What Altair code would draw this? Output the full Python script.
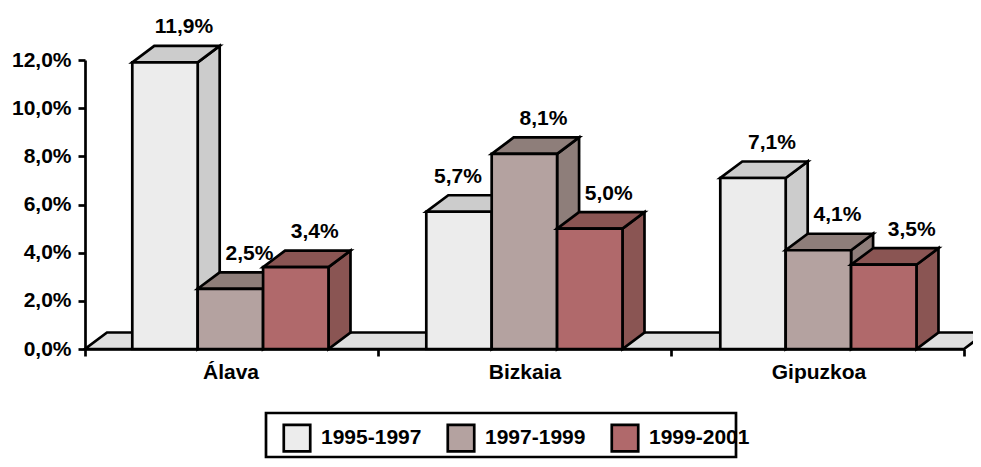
import altair as alt
import pandas as pd

categories = ["Álava", "Bizkaia", "Gipuzkoa"]
series = ["1995-1997", "1997-1999", "1999-2001"]
values_1995 = [11.9, 5.7, 7.1]
values_1997 = [2.5, 8.1, 4.1]
values_1999 = [3.4, 5.0, 3.5]
y_ticks = [0, 2, 4, 6, 8, 10, 12]
front_colors = ["#ECECEC", "#B4A2A0", "#B0696B"]
shade_colors = ["#CCCCCC", "#8E7E7A", "#8A5553"]
floor_color = "#DFDFDF"

FONT = "Liberation Sans"
FS = 21
SW = 2.7
INSET, BAR_W, STEP = 0.1614, 0.2232, 294 / 293
DX, DY = 22 / 293, 0.685   # 3D depth, in data units of x and y

all_values = [values_1995, values_1997, values_1999]

x_scale = alt.Scale(domain=[0, 3], nice=False, zero=False)
y_scale = alt.Scale(domain=[0, 12], nice=False, zero=False)
color_scale = alt.Scale(domain=series, range=front_colors)

xn = alt.X("x:Q", scale=x_scale, title=None)
yn = alt.Y("y:Q", scale=y_scale, title=None)


def bars(si):
    out = []
    for ci, cat in enumerate(categories):
        x0 = ci * STEP + INSET + si * BAR_W
        out.append(dict(cat=cat, series=series[si], x=x0, x2=x0 + BAR_W, y=all_values[si][ci], y0=0))
    return pd.DataFrame(out)


def side_df(si):
    rows = []
    for r in bars(si).to_dict("records"):
        rows.append(dict(cat=r["cat"], x=r["x2"], y=r["y"], y2=0))
        rows.append(dict(cat=r["cat"], x=r["x2"] + DX, y=r["y"] + DY, y2=DY))
    return pd.DataFrame(rows)


def top_df(si):
    rows = []
    for r in bars(si).to_dict("records"):
        rows.append(dict(cat=r["cat"], y=r["y"], x=r["x"], x2=r["x2"]))
        rows.append(dict(cat=r["cat"], y=r["y"] + DY, x=r["x"] + DX, x2=r["x2"] + DX))
    return pd.DataFrame(rows)


floor_df = pd.DataFrame({"y": [0, DY], "x": [0, DX], "x2": [3, 3 + DX]})

floor = alt.Chart(floor_df).mark_area(
    orient="horizontal", fill=floor_color, stroke="black", strokeWidth=SW
).encode(
    x=alt.X("x:Q", scale=x_scale, title=None, axis=alt.Axis(
        values=[0, 1, 2, 3], labels=False, title=None, grid=False, tickSize=7,
        tickWidth=SW, tickColor="black", domainWidth=SW, domainColor="black")),
    x2="x2:Q",
    y=alt.Y("y:Q", scale=y_scale, title=None, axis=alt.Axis(
        values=y_ticks, grid=False, title=None, tickSize=7, tickWidth=SW, tickColor="black",
        domainWidth=SW, domainColor="black", labelPadding=7, labelFont=FONT, labelFontSize=FS,
        labelFontWeight="bold", labelColor="black",
        labelExpr="replace(format(datum.value, '.1f'), '.', ',') + '%'")),
)

layers = [floor]
for si in range(3):
    layers.append(
        alt.Chart(side_df(si)).mark_area(fill=shade_colors[si], stroke="black", strokeWidth=SW).encode(
            x=xn, y=yn, y2="y2:Q", detail="cat:N")
    )
    layers.append(
        alt.Chart(top_df(si)).mark_area(orient="horizontal", fill=shade_colors[si], stroke="black", strokeWidth=SW).encode(
            x=xn, x2="x2:Q", y=yn, detail="cat:N")
    )
    layers.append(
        alt.Chart(bars(si)).mark_rect(stroke="black", strokeWidth=SW).encode(
            x=xn, x2="x2:Q", y=yn, y2="y0:Q",
            fill=alt.Fill("series:N", scale=color_scale, legend=alt.Legend(
                orient="none", legendX=197, legendY=363, direction="horizontal", columns=3,
                title=None, symbolType="square", symbolSize=700, symbolStrokeColor="black",
                symbolStrokeWidth=SW, symbolOpacity=1, columnPadding=20, labelOffset=9, labelFont=FONT,
                labelFontSize=FS, labelFontWeight="bold", labelColor="black", padding=0)),
        )
    )

label_rows = []
for si in range(3):
    for ci, r in enumerate(bars(si).to_dict("records")):
        # two labels sit apart from the others in the reference
        shift = {(0, 1): -20, (2, 2): 9}.get((si, ci), 0) / 293
        label_rows.append(dict(x=(r["x"] + r["x2"]) / 2 + shift, y=r["y"],
                               label=f'{r["y"]:.1f}%'.replace(".", ",")))
labels = alt.Chart(pd.DataFrame(label_rows)).mark_text(
    font=FONT, fontSize=FS, fontWeight="bold", color="black", dx=19, dy=-35, baseline="middle"
).encode(x=xn, y=yn, text="label:N")

cat_df = pd.DataFrame({"x": [(i + 0.5) * STEP for i in range(3)], "y": [0, 0, 0], "label": categories})
cat_text = alt.Chart(cat_df).mark_text(
    font=FONT, fontSize=FS, fontWeight="bold", color="black", dx=-1, dy=24, baseline="middle"
).encode(x=xn, y=yn, text="label:N")

legend_box = alt.Chart(pd.DataFrame({"a": [0]})).mark_rect(
    fill="transparent", stroke="black", strokeWidth=SW
).encode(x=alt.value(181), x2=alt.value(651), y=alt.value(353), y2=alt.value(397))

chart = alt.layer(*layers, labels, cat_text, legend_box).properties(
    width=879, height=289,
    autosize=alt.AutoSizeParams(type="none"),
    padding={"left": 77, "top": 52, "right": 9, "bottom": 110},
    background="white",
).resolve_axis(x="shared", y="shared").configure_view(stroke=None)

chart.save("out.html", embed_options={"renderer": "svg", "actions": False})
